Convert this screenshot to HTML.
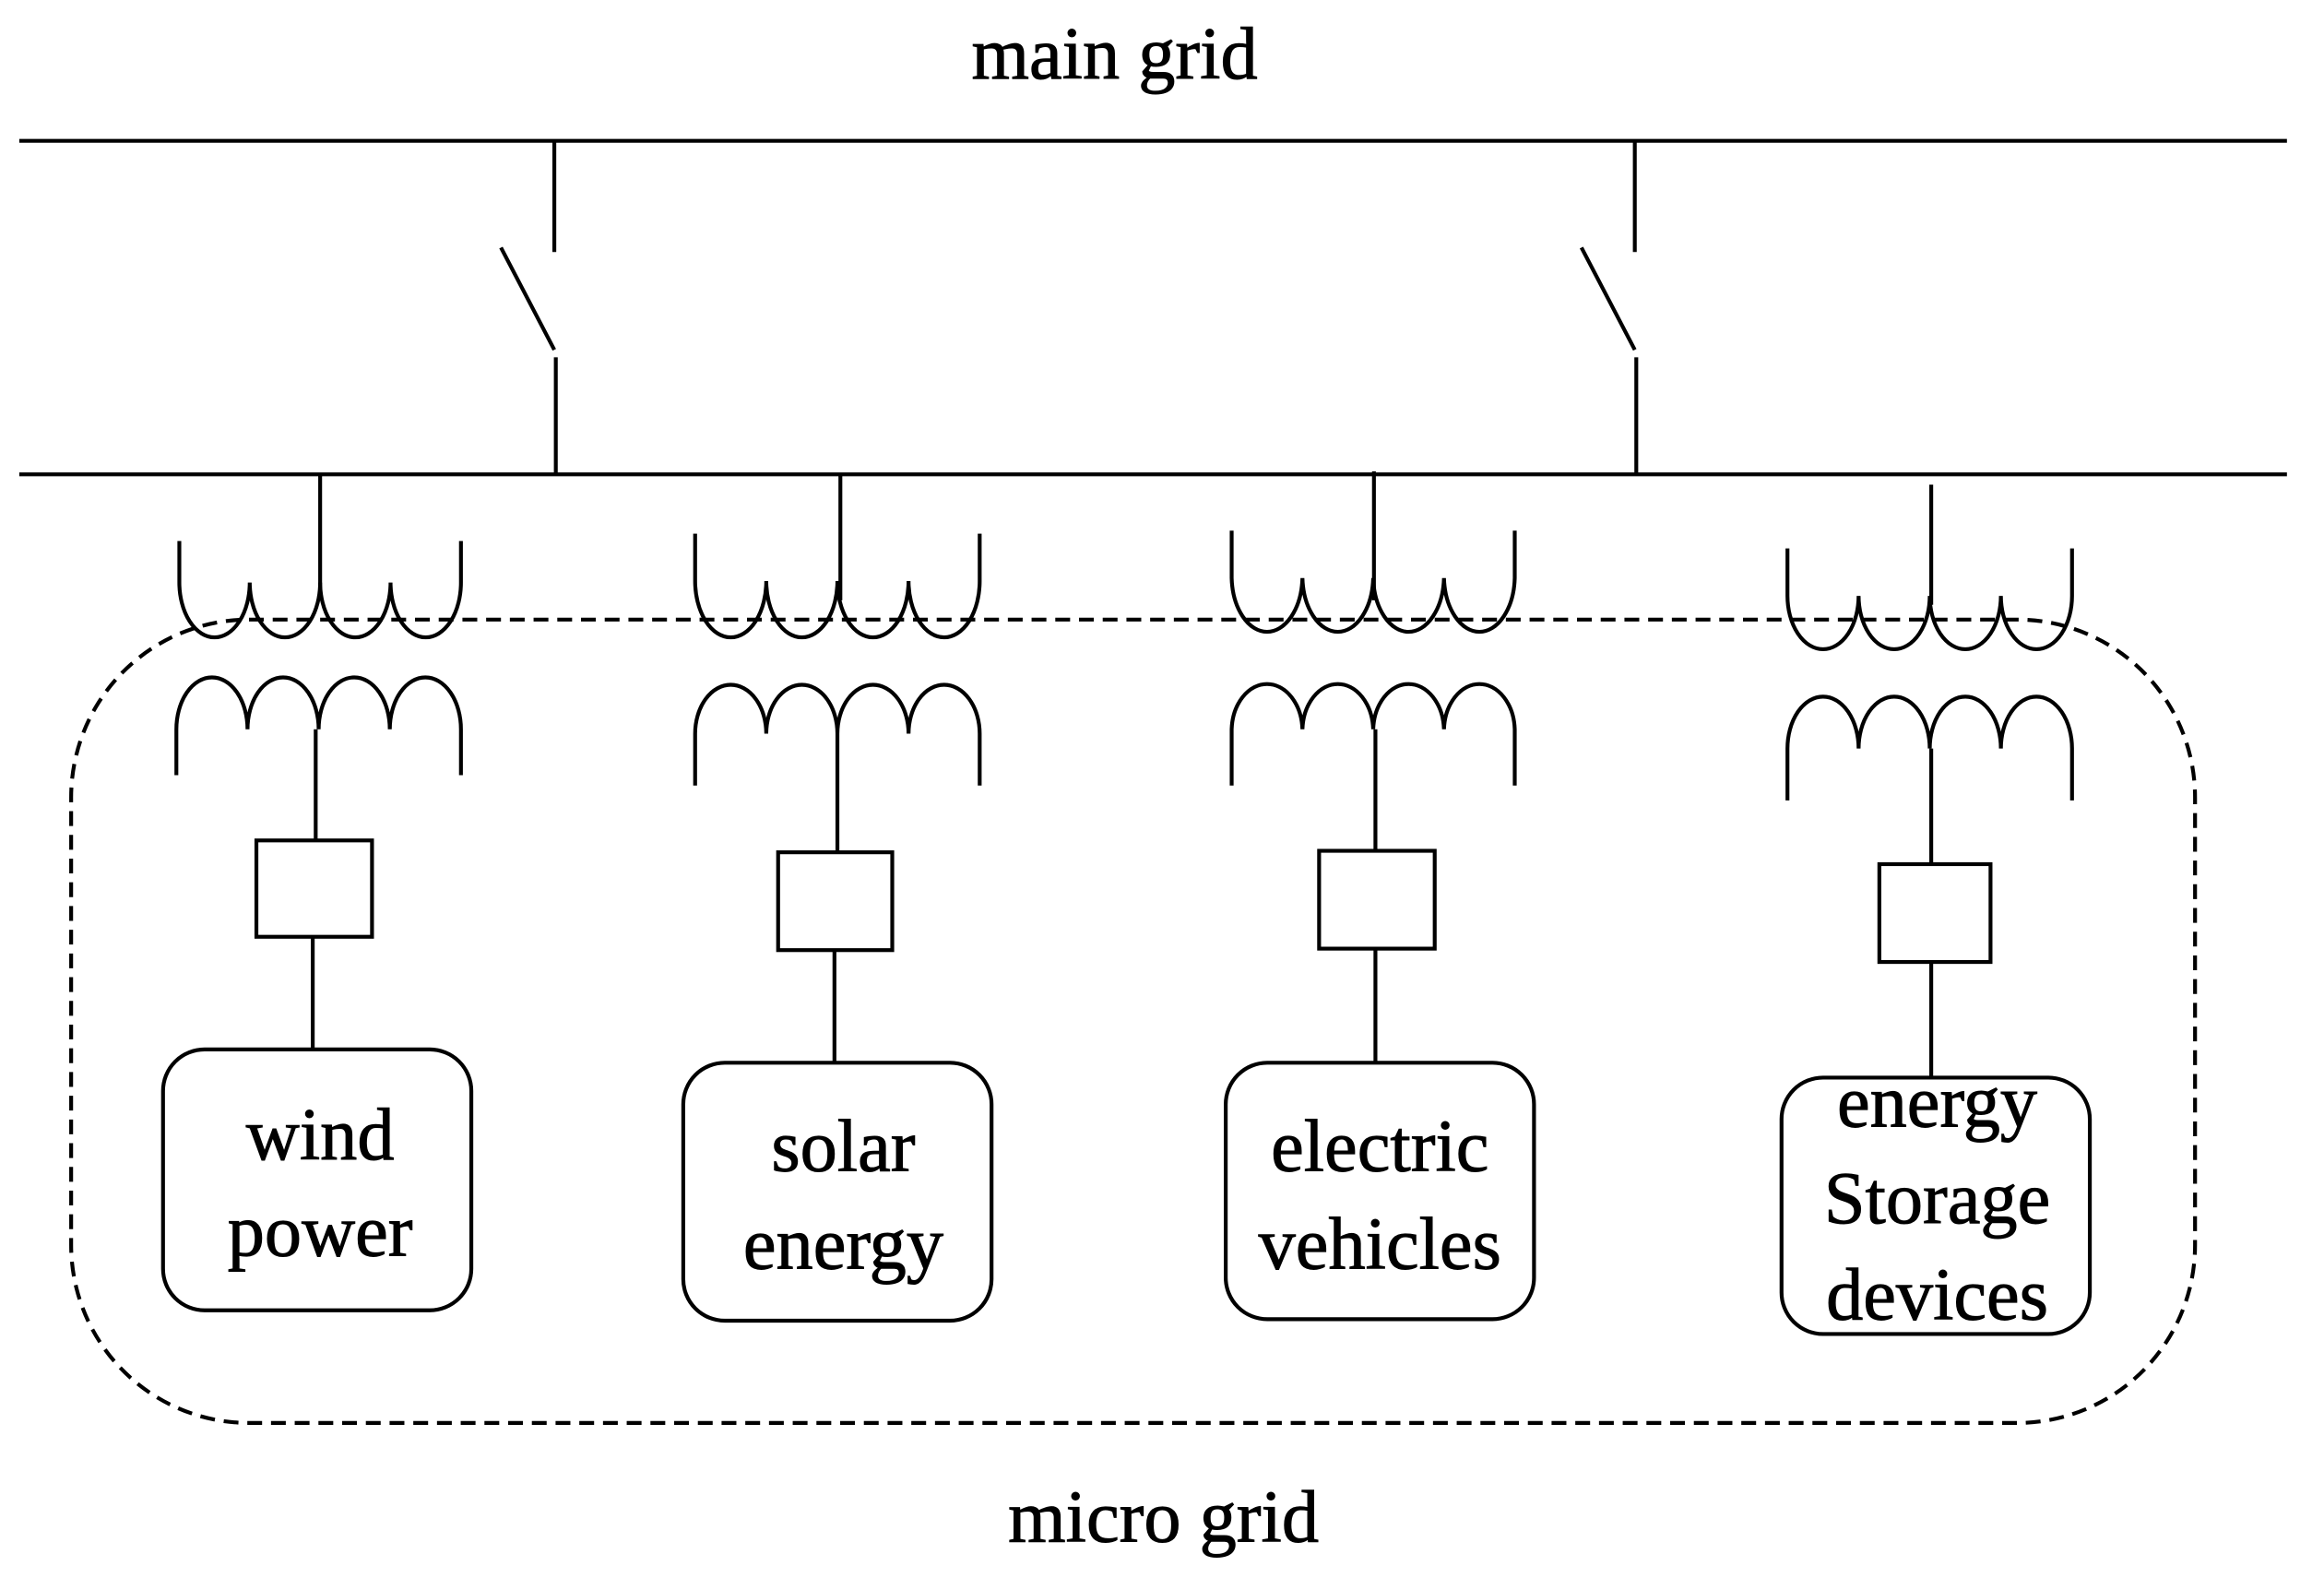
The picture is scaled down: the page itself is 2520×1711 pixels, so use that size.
<!DOCTYPE html>
<html><head><meta charset="utf-8"><style>
html,body{margin:0;padding:0;background:#fff;}
svg{display:block;}
text{font-family:"Liberation Serif",serif;fill:#000;text-anchor:middle;stroke:#000;stroke-width:0.6;}
</style></head><body>
<svg width="2520" height="1711" viewBox="0 0 1568 1064.6" xmlns="http://www.w3.org/2000/svg">
<g fill="none" stroke="#000" stroke-width="2.6">
<line x1="13" y1="95" x2="1543" y2="95"/>
<line x1="13" y1="320" x2="1543" y2="320"/>
<line x1="374" y1="95" x2="374" y2="170"/>
<line x1="338" y1="167" x2="374" y2="236"/>
<line x1="375" y1="241" x2="375" y2="320"/>
<line x1="1103" y1="95" x2="1103" y2="170"/>
<line x1="1067" y1="167" x2="1103" y2="236"/>
<line x1="1104" y1="241" x2="1104" y2="320"/>
<rect x="48" y="418" width="1433" height="542" rx="120" ry="120" stroke-dasharray="10,6"/>

<line x1="216" y1="320" x2="216" y2="405"/>
<path d="M121 365 V393 A23.75 37 0 0 0 168.5 393 A23.75 37 0 0 0 216 393 A23.75 37 0 0 0 263.5 393 A23.75 37 0 0 0 311 393 V365"/>
<path d="M119 523 V492 A24 35 0 0 1 167 492 A24 35 0 0 1 215 492 A24 35 0 0 1 263 492 A24 35 0 0 1 311 492 V523"/>
<line x1="213" y1="492" x2="213" y2="567"/>
<rect x="173" y="567" width="78" height="65"/>
<line x1="211" y1="632" x2="211" y2="708"/>
<rect x="110" y="708" width="208" height="176" rx="28"/>

<line x1="567" y1="320" x2="567" y2="405"/>
<path d="M469 360 V392 A24 38 0 0 0 517 392 A24 38 0 0 0 565 392 A24 38 0 0 0 613 392 A24 38 0 0 0 661 392 V360"/>
<path d="M469 530 V495 A24 33 0 0 1 517 495 A24 33 0 0 1 565 495 A24 33 0 0 1 613 495 A24 33 0 0 1 661 495 V530"/>
<line x1="565" y1="495" x2="565" y2="575"/>
<rect x="525" y="575" width="77" height="66"/>
<line x1="563" y1="641" x2="563" y2="717"/>
<rect x="461" y="717" width="208" height="174" rx="28"/>

<line x1="927" y1="318" x2="927" y2="405"/>
<path d="M831 358 V390 A23.9 38 0 0 0 878.75 390 A23.9 38 0 0 0 926.5 390 A23.9 38 0 0 0 974.25 390 A23.9 38 0 0 0 1022 390 V358"/>
<path d="M831 530 V492 A23.9 32 0 0 1 878.75 492 A23.9 32 0 0 1 926.5 492 A23.9 32 0 0 1 974.25 492 A23.9 32 0 0 1 1022 492 V530"/>
<line x1="928" y1="492" x2="928" y2="574"/>
<rect x="890" y="574" width="78" height="66"/>
<line x1="928" y1="640" x2="928" y2="717"/>
<rect x="827" y="717" width="208" height="173" rx="28"/>

<line x1="1303" y1="327" x2="1303" y2="408"/>
<path d="M1206 370 V402 A24 36 0 0 0 1254 402 A24 36 0 0 0 1302 402 A24 36 0 0 0 1350 402 A24 36 0 0 0 1398 402 V370"/>
<path d="M1206 540 V505 A24 35 0 0 1 1254 505 A24 35 0 0 1 1302 505 A24 35 0 0 1 1350 505 A24 35 0 0 1 1398 505 V540"/>
<line x1="1303" y1="505" x2="1303" y2="583"/>
<rect x="1268" y="583" width="75" height="66"/>
<line x1="1303" y1="649" x2="1303" y2="727"/>
<rect x="1202" y="727" width="208" height="173" rx="28"/>
</g>
<g font-size="50">
<text x="752" y="53">main grid</text>
<text x="785" y="1040">micro grid</text>
<text x="216" y="782">wind</text>
<text x="216" y="847">power</text>
<text x="569" y="790">solar</text>
<text x="569" y="856">energy</text>
<text x="931" y="790">electric</text>
<text x="931" y="856">vehicles</text>
<text x="1307" y="760">energy</text>
<text x="1307" y="825">Storage</text>
<text x="1307" y="890">devices</text>
</g>
</svg>
</body></html>
